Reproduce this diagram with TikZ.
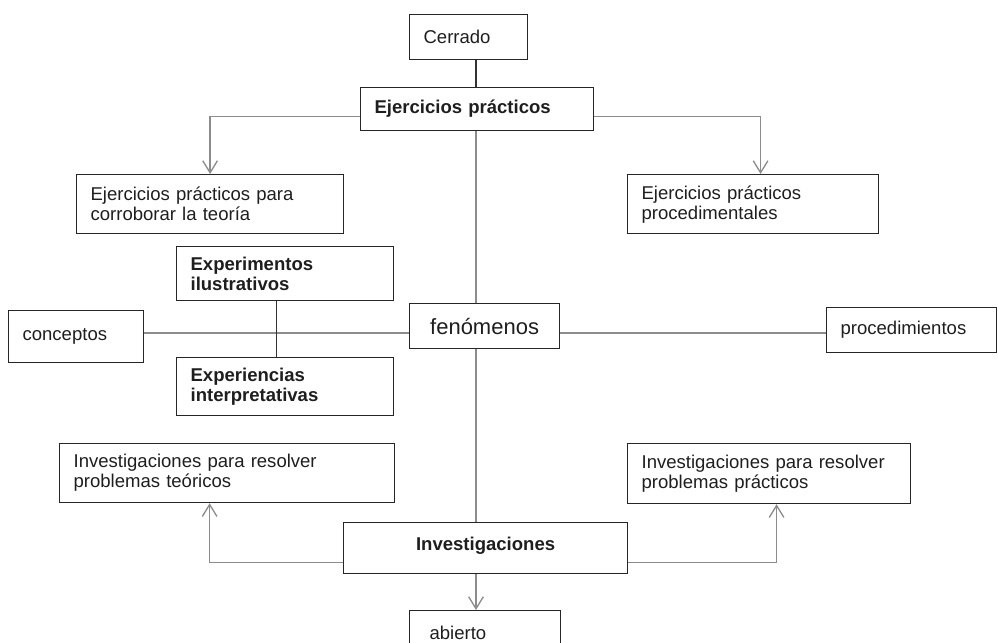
\documentclass[tikz,border=0pt]{standalone}
\usepackage{fontspec}
\setmainfont{Liberation Sans}
\usepackage{tikz}
\usetikzlibrary{arrows.meta}
\definecolor{LineGray}{RGB}{140,140,140}
\definecolor{TextGray}{RGB}{30,30,30}

\begin{document}
\begin{tikzpicture}[x=0.75pt,y=-0.75pt,
    box/.style={draw=black!85,line width=0.9pt,anchor=north west,align=left,text=TextGray,
        inner xsep=10.5pt,inner ysep=0pt,font=\fontsize{13.9}{15}\selectfont},
    midbox/.style={draw=black!85,line width=0.9pt,anchor=north west,align=center,text=TextGray,
        inner sep=0pt},
    link/.style={draw=LineGray,line width=1pt},
    dark/.style={draw=black!80,line width=0.9pt},
    arrow/.style={link,-{Straight Barb[length=9pt,width=11pt,line width=1pt]}}]
    \useasboundingbox (0,0) rectangle (998,642);
    \coordinate (axis) at (476,333);
    % top: closed practical work
    \node[box,text width=67.5pt,minimum height=33.75pt] (cerrado) at (409,14) {Cerrado};
    \node[box,text width=153.75pt,minimum height=32.25pt,font=\fontsize{13.9}{15}\selectfont\bfseries] (ejer) at (360,87) {Ejercicios prácticos};
    \node[box,text width=179.25pt,minimum height=44.25pt] (teoria) at (76,174) {Ejercicios prácticos para\\corroborar la teoría};
    \node[box,text width=167.25pt,minimum height=44.25pt] (proc) at (627,174) {Ejercicios prácticos\\procedimentales};
    % middle row
    \node[box,text width=141.75pt,minimum height=40.5pt,font=\fontsize{13.9}{15}\selectfont\bfseries] (exper) at (176,246) {Experimentos\\ilustrativos};
    \node[box,text width=141.75pt,minimum height=43.5pt,font=\fontsize{13.9}{15}\selectfont\bfseries] (experi) at (176,357) {Experiencias\\interpretativas};
    \node[box,text width=80.25pt,minimum height=39pt] (concep) at (8,310) {conceptos};
    \node[midbox,minimum width=112.5pt,minimum height=33.75pt,font=\fontsize{16.5}{18}\selectfont] (fen) at (409,303) {fenómenos};
    \node[box,text width=106.5pt,minimum height=33.75pt] (procs) at (826,307) {procedimientos};
    % bottom: open investigations
    \node[box,text width=230.25pt,minimum height=44.25pt] (teoricos) at (59,443) {Investigaciones para resolver\\problemas teóricos};
    \node[box,text width=191.25pt,minimum height=45pt] (practicos) at (627,443) {Investigaciones para resolver\\problemas prácticos};
    \node[midbox,minimum width=213pt,minimum height=38.25pt,text depth=6pt,font=\fontsize{13.9}{15}\selectfont\bfseries] (inv) at (343,522) {Investigaciones};
    \node[box,inner xsep=15pt,text width=83.25pt,minimum height=33.75pt] (abierto) at (409,610) {abierto};
    % connectors
    \draw[dark] (cerrado.south -| axis) -- (ejer.north -| axis);
    \draw[link] (ejer.south -| axis) -- (fen.north -| axis);
    \draw[link] (fen.south -| axis) -- (inv.north -| axis);
    \draw[arrow] (inv.south -| axis) -- (abierto.north -| axis);
    \draw[arrow] ([yshift=-5.6pt]ejer.west) -| (teoria.north);
    \draw[arrow] ([yshift=-5.6pt]ejer.east) -| ([xshift=5.6pt]proc.north);
    \draw[link] (concep.east |- axis) -- (fen.west |- axis);
    \draw[link] (fen.east |- axis) -- (procs.west |- axis);
    \draw[dark] ([xshift=-6.4pt]exper.south) -- ([xshift=-6.4pt]experi.north);
    \draw[arrow] ([yshift=-10.9pt]inv.west) -| ([xshift=-13.1pt]teoricos.south);
    \draw[arrow] ([yshift=-10.9pt]inv.east) -| ([xshift=5.6pt]practicos.south);
\end{tikzpicture}
\end{document}
